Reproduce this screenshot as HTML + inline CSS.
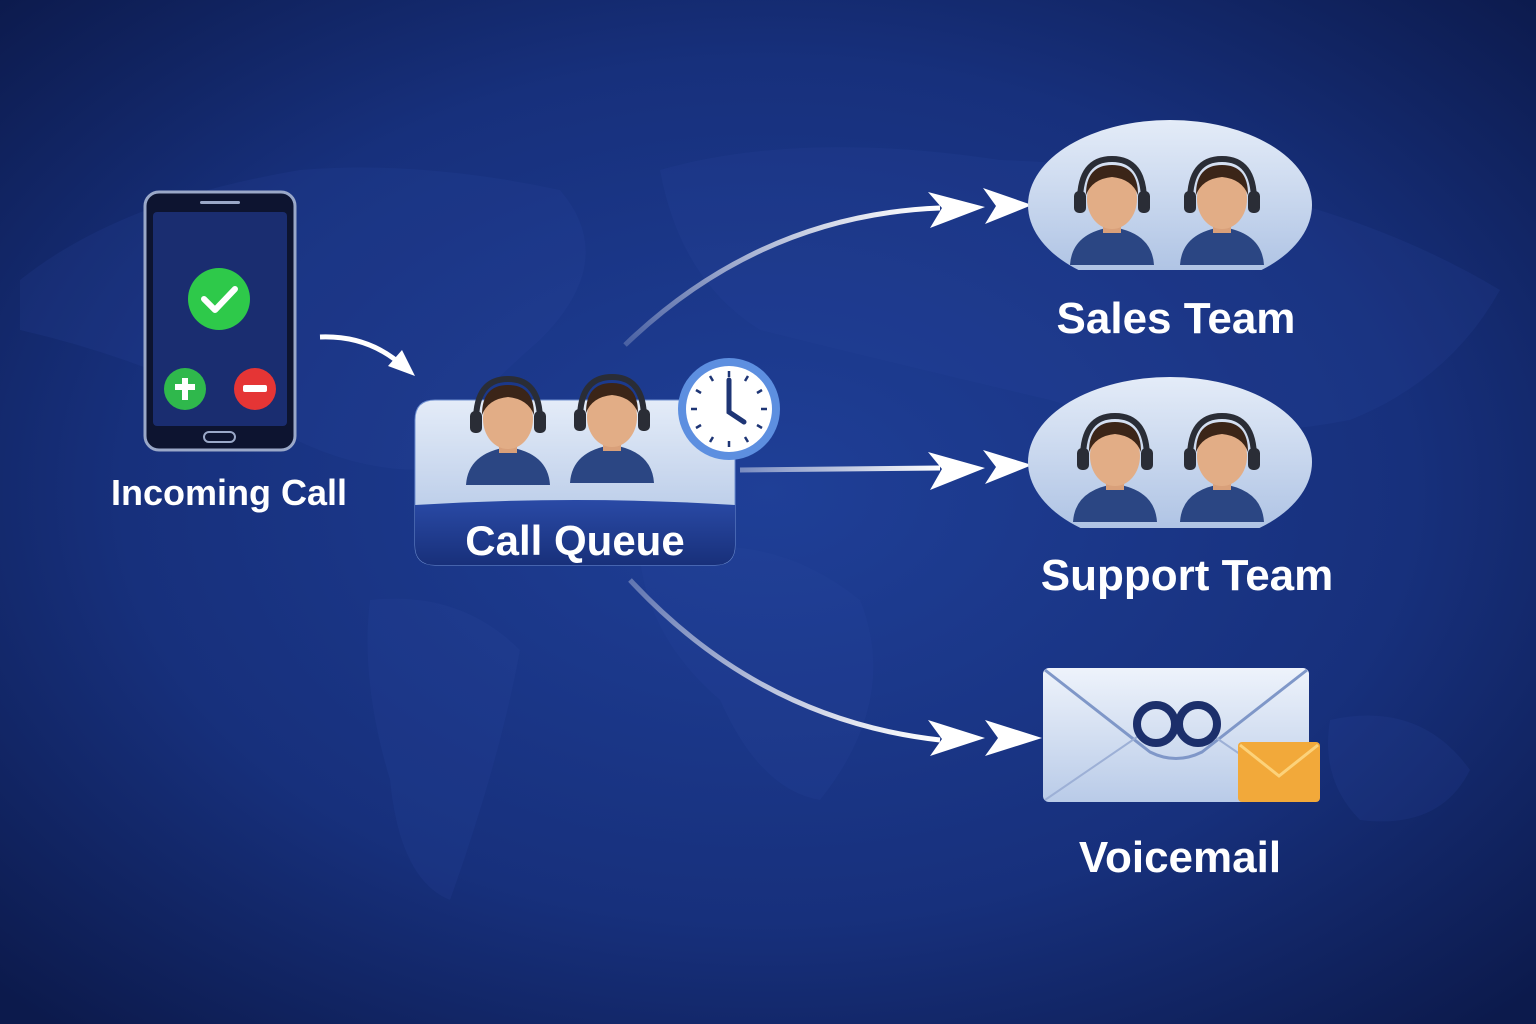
<!DOCTYPE html>
<html><head><meta charset="utf-8"><style>
html,body{margin:0;padding:0;width:1536px;height:1024px;overflow:hidden;background:#142a6e}
svg{display:block}
text{font-family:"Liberation Sans",sans-serif;font-weight:bold;fill:#fff}
</style></head><body>
<svg width="1536" height="1024" viewBox="0 0 1536 1024" xmlns="http://www.w3.org/2000/svg">
<defs>
<radialGradient id="bg" cx="50%" cy="48%" r="70%">
<stop offset="0" stop-color="#1f3f97"/><stop offset="0.6" stop-color="#17307c"/><stop offset="1" stop-color="#0c1a4c"/>
</radialGradient>
<linearGradient id="card" x1="0" y1="0" x2="0" y2="1"><stop offset="0" stop-color="#e4ecf8"/><stop offset="1" stop-color="#a9bfe2"/></linearGradient>
<linearGradient id="band" x1="0" y1="0" x2="0" y2="1"><stop offset="0" stop-color="#2a4aa6"/><stop offset="1" stop-color="#18307a"/></linearGradient>
<linearGradient id="env" x1="0" y1="0" x2="0" y2="1"><stop offset="0" stop-color="#eef3fb"/><stop offset="1" stop-color="#b9cbe8"/></linearGradient>
<linearGradient id="ln1" x1="0" y1="1" x2="1" y2="0"><stop offset="0" stop-color="#fff" stop-opacity="0.2"/><stop offset="1" stop-color="#fff"/></linearGradient>
<linearGradient id="ln2" x1="0" y1="0" x2="1" y2="0"><stop offset="0" stop-color="#fff" stop-opacity="0.4"/><stop offset="1" stop-color="#fff"/></linearGradient>
<linearGradient id="ln3" x1="0" y1="0" x2="1" y2="1"><stop offset="0" stop-color="#fff" stop-opacity="0.3"/><stop offset="1" stop-color="#fff"/></linearGradient>
<clipPath id="c1"><rect x="1000" y="100" width="340" height="170"/></clipPath>
<clipPath id="c2"><rect x="1000" y="360" width="340" height="168"/></clipPath>
<g id="person">
<path d="M-42,60 Q-40,28 0,22 Q40,28 42,60 Z" fill="#2b4683"/>
<rect x="-9" y="14" width="18" height="14" fill="#d9a07a"/>
<ellipse cx="0" cy="-6" rx="25" ry="30" fill="#e2ad86"/>
<path d="M-26,-10 Q-26,-40 0,-40 Q26,-40 26,-10 Q20,-26 0,-28 Q-20,-26 -26,-10Z" fill="#3b2518"/>
<path d="M-32,-4 Q-32,-46 0,-46 Q32,-46 32,-4" fill="none" stroke="#2a2d36" stroke-width="6"/>
<rect x="-38" y="-14" width="12" height="22" rx="5" fill="#2a2d36"/>
<rect x="26" y="-14" width="12" height="22" rx="5" fill="#2a2d36"/>
</g>
</defs>
<rect width="1536" height="1024" fill="url(#bg)"/>
<g fill="#2a4aa0" opacity="0.18">
<path d="M20,280 Q120,200 300,170 Q420,160 560,190 Q620,260 540,340 Q470,400 420,470 Q340,470 260,420 Q150,360 20,330Z"/>
<path d="M370,600 Q460,590 520,650 Q500,760 450,900 Q400,880 390,780 Q360,680 370,600Z"/>
<path d="M660,170 Q800,130 1000,160 Q1300,170 1500,290 Q1450,380 1350,420 Q1200,450 1050,400 Q880,360 760,330 Q680,280 660,170Z"/>
<path d="M640,560 Q760,520 860,600 Q900,700 820,800 Q760,790 720,700 Q650,640 640,560Z"/>
<path d="M1330,720 Q1420,700 1470,770 Q1440,830 1360,820 Q1320,780 1330,720Z"/>
</g>
<path d="M320,337 Q370,335 405,368" fill="none" stroke="#fff" stroke-width="5"/>
<path d="M415,376 L388,366 L402,350Z" fill="#fff"/>
<path d="M625,345 Q760,215 940,208" fill="none" stroke="url(#ln1)" stroke-width="5"/>
<path d="M928,192 L985,207 L930,228 L942,208Z" fill="#fff"/>
<path d="M983,188 L1032,205 L985,224 L996,206Z" fill="#fff"/>
<path d="M740,470 L940,468" fill="none" stroke="url(#ln2)" stroke-width="5"/>
<path d="M928,452 L985,468 L930,490 L942,469Z" fill="#fff"/>
<path d="M983,450 L1032,465 L985,484 L996,467Z" fill="#fff"/>
<path d="M630,580 Q760,720 940,740" fill="none" stroke="url(#ln3)" stroke-width="5"/>
<path d="M928,720 L985,738 L930,756 L942,739Z" fill="#fff"/>
<path d="M985,720 L1042,738 L985,756 L998,738Z" fill="#fff"/>
<rect x="145" y="192" width="150" height="258" rx="14" fill="#0d1430" stroke="#9aa8c8" stroke-width="3"/>
<rect x="153" y="212" width="134" height="214" rx="4" fill="#1a2d70"/>
<rect x="200" y="201" width="40" height="3" rx="1.5" fill="#9aa8c8"/>
<rect x="204" y="432" width="31" height="10" rx="5" fill="none" stroke="#9aa8c8" stroke-width="2"/>
<circle cx="219" cy="299" r="31" fill="#2ec94a"/>
<path d="M204,299 L215,310 L235,289" fill="none" stroke="#fff" stroke-width="6" stroke-linecap="round" stroke-linejoin="round"/>
<circle cx="185" cy="389" r="21" fill="#2fb84c"/>
<path d="M185,378 V400 M175,387 H195" stroke="#fff" stroke-width="6"/>
<circle cx="255" cy="389" r="21" fill="#e53535"/>
<rect x="243" y="385" width="24" height="7" rx="2" fill="#fff"/>
<text x="229" y="505" font-size="36" text-anchor="middle">Incoming Call</text>
<path d="M415,420 Q415,400 435,400 H715 Q735,400 735,420 V545 Q735,565 715,565 H435 Q415,565 415,545Z" fill="url(#card)" stroke="#6f8fd0" stroke-width="1"/>
<g transform="translate(508,425)"><use href="#person"/></g>
<g transform="translate(612,423)"><use href="#person"/></g>
<path d="M415,505 Q575,495 735,505 V545 Q735,565 715,565 H435 Q415,565 415,545Z" fill="url(#band)"/>
<text x="575" y="555" font-size="42" text-anchor="middle">Call Queue</text>
<circle cx="729" cy="409" r="51" fill="#5d8fe0"/>
<circle cx="729" cy="409" r="43" fill="#fff"/>
<g stroke="#1e3575" stroke-width="2.5">
<path d="M729,371 v6 M729,441 v6 M691,409 h6 M761,409 h6"/>
<path d="M748,376 l-3,5 M762,390 l-5,3 M762,428 l-5,-3 M748,442 l-3,-5 M710,442 l3,-5 M696,428 l5,-3 M696,390 l5,3 M710,376 l3,5"/>
</g>
<path d="M729,380 V412 L744,422" fill="none" stroke="#1e3575" stroke-width="5" stroke-linecap="round"/>
<g clip-path="url(#c1)">
<ellipse cx="1170" cy="205" rx="142" ry="85" fill="url(#card)"/>
<g transform="translate(1112,205)"><use href="#person"/></g>
<g transform="translate(1222,205)"><use href="#person"/></g>
</g>
<text x="1176" y="333" font-size="44" text-anchor="middle">Sales Team</text>
<g clip-path="url(#c2)">
<ellipse cx="1170" cy="462" rx="142" ry="85" fill="url(#card)"/>
<g transform="translate(1115,462)"><use href="#person"/></g>
<g transform="translate(1222,462)"><use href="#person"/></g>
</g>
<text x="1187" y="590" font-size="44" text-anchor="middle">Support Team</text>
<rect x="1043" y="668" width="266" height="134" rx="6" fill="url(#env)"/>
<path d="M1045,670 L1150,752 Q1176,765 1202,752 L1307,670" fill="none" stroke="#7f97c8" stroke-width="3"/>
<path d="M1045,800 L1140,735 M1307,800 L1212,735" stroke="#9db0d6" stroke-width="2"/>
<circle cx="1156" cy="724" r="19" fill="none" stroke="#1c2f6b" stroke-width="8"/>
<circle cx="1198" cy="724" r="19" fill="none" stroke="#1c2f6b" stroke-width="8"/>
<rect x="1238" y="742" width="82" height="60" rx="4" fill="#f2a93a"/>
<path d="M1240,745 L1279,776 L1318,745" fill="none" stroke="#fcd27a" stroke-width="3"/>
<text x="1180" y="872" font-size="44" text-anchor="middle">Voicemail</text>
</svg>
</body></html>
